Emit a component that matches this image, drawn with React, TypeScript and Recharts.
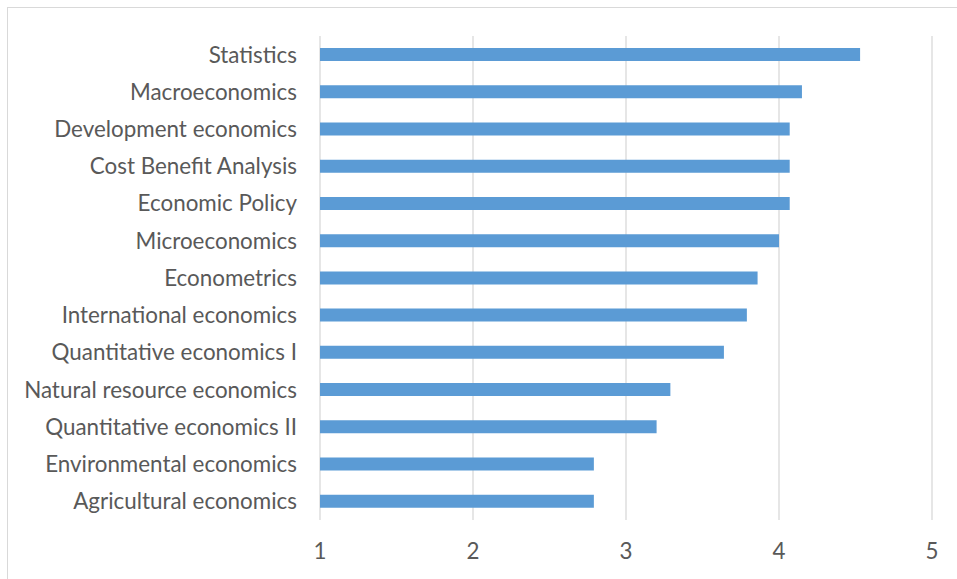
import React from "react";
import { BarChart, Bar, XAxis, YAxis, CartesianGrid } from "recharts";

const courses = [
  "Statistics",
  "Macroeconomics",
  "Development economics",
  "Cost Benefit Analysis",
  "Economic Policy",
  "Microeconomics",
  "Econometrics",
  "International economics",
  "Quantitative economics I",
  "Natural resource economics",
  "Quantitative economics II",
  "Environmental economics",
  "Agricultural economics",
];

const scores = [4.53, 4.15, 4.07, 4.07, 4.07, 4.0, 3.86, 3.79, 3.64, 3.29, 3.2, 2.79, 2.79];

const xTicks = [1, 2, 3, 4, 5];

const data = courses.map((name, i) => ({ name, score: scores[i] }));

const FONT = "Lato, 'Liberation Sans', sans-serif";

export default function App() {
  return (
    <div
      style={{
        position: "absolute",
        left: 7,
        top: 7,
        width: 970,
        height: 590,
        boxSizing: "border-box",
        border: "1px solid #D9D9D9",
        background: "#fff",
      }}
    >
      <BarChart
        width={950}
        height={569}
        data={data}
        layout="vertical"
        margin={{ top: 28, right: 26, bottom: 0, left: 0 }}
      >
        <CartesianGrid horizontal={false} stroke="#D9D9D9" strokeWidth={1.3} />
        <XAxis
          type="number"
          domain={[1, 5]}
          ticks={xTicks}
          axisLine={false}
          tickLine={false}
          tickSize={0}
          tickMargin={23}
          height={57}
          tick={{ fill: "#595959", fontSize: 22.4, fontFamily: FONT }}
          interval={0}
        />
        <YAxis
          type="category"
          dataKey="name"
          width={312}
          axisLine={false}
          tickLine={false}
          tickSize={0}
          tickMargin={23}
          interval={0}
          tick={{ fill: "#595959", fontSize: 22.4, fontFamily: FONT }}
        />
        <Bar dataKey="score" fill="#5B9BD5" barSize={13} isAnimationActive={false} />
      </BarChart>
    </div>
  );
}
